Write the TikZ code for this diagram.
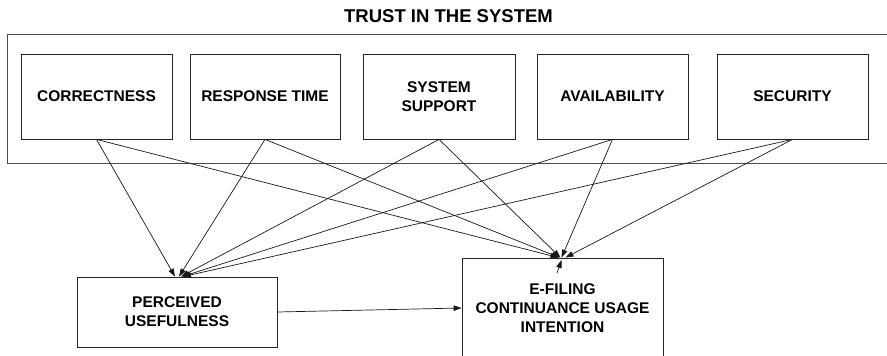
\documentclass[tikz,border=0pt]{standalone}
\usepackage{fontspec}
\setmainfont{Liberation Sans}
\usetikzlibrary{arrows.meta}
\tikzset{
  box/.style={draw=black!85, line width=0.8pt, align=center, inner sep=2pt,
    font=\fontsize{15.5}{19}\selectfont\bfseries},
  conn/.style={draw=black!90, line width=0.7pt, -{Triangle[length=8pt,width=5.5pt]}},
  outerbox/.style={draw=black!70, line width=0.9pt}
}
\begin{document}
\begin{tikzpicture}[x=1pt,y=-1pt]
\useasboundingbox (0,0) rectangle (887,356);
\clip (0,0) rectangle (887,356);
\node[font=\fontsize{18.5}{22}\selectfont\bfseries] (title) at (448.5,16) {TRUST IN THE SYSTEM};
\draw[outerbox] (7,34) rectangle (895,163);
\node[box, minimum width=151pt, minimum height=85pt] (corr) at (96.5,96.5) {CORRECTNESS};
\node[box, minimum width=150pt, minimum height=85pt] (resp) at (265,96.5) {RESPONSE TIME};
\node[box, minimum width=152pt, minimum height=85pt] (sys) at (439,96.5) {SYSTEM\\SUPPORT};
\node[box, minimum width=151pt, minimum height=85pt] (avail) at (612.5,96.5) {AVAILABILITY};
\node[box, minimum width=151pt, minimum height=85pt] (sec) at (792.5,96.5) {SECURITY};
\node[box, minimum width=200pt, minimum height=70pt] (pu) at (177,312) {PERCEIVED\\USEFULNESS};
\node[box, minimum width=201pt, minimum height=100pt] (ef) at (562.5,308) {E-FILING\\CONTINUANCE USAGE\\INTENTION};
% to perceived usefulness
\draw[conn] (corr.south) -- ([xshift=-2pt]pu.north);
\draw[conn] (resp.south) -- ([xshift=2pt]pu.north);
\draw[conn] (sys.south) -- ([xshift=4pt]pu.north);
\draw[conn] (avail.south) -- ([xshift=5pt]pu.north);
\draw[conn] (sec.south) -- ([xshift=6pt]pu.north);
% to e-filing
\draw[conn] (corr.south) -- ([xshift=-4pt]ef.north);
\draw[conn] (resp.south) -- ([xshift=-3pt]ef.north);
\draw[conn] (sys.south) -- ([xshift=-2pt]ef.north);
\draw[conn] (avail.south) -- ([xshift=-1pt]ef.north);
\draw[conn] (sec.south) -- ([xshift=3pt]ef.north);
% perceived usefulness to e-filing
\draw[conn] (pu.east) -- ([yshift=0pt]ef.west);
% small stray arrow
\coordinate (sa) at (557,273);
\coordinate (sb) at (561.5,260);
\draw[conn] (sa) -- (sb);
\end{tikzpicture}
\end{document}
